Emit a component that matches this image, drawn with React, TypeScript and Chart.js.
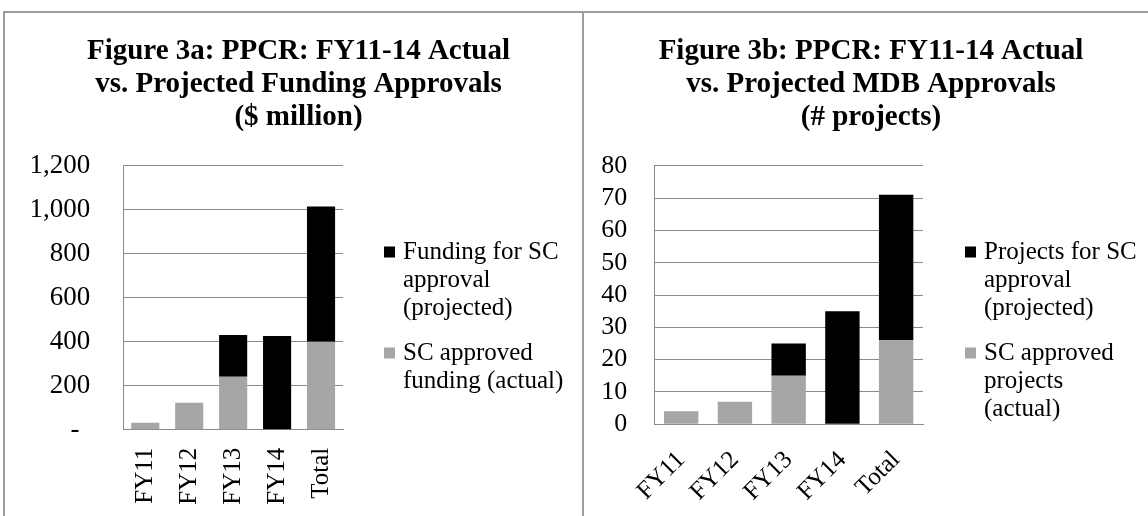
import React, { useEffect, useRef } from 'react';
import { Chart, registerables } from 'chart.js';

Chart.register(...registerables);

// ---------- data ----------
const categories = ['FY11', 'FY12', 'FY13', 'FY14', 'Total'];

const fundingActual = [32, 123, 241, 0, 400];
const fundingProjected = [0, 0, 189, 426, 615];

const projectsActual = [4, 7, 15, 0, 26];
const projectsProjected = [0, 0, 10, 35, 45];

const fundingTickLabels = ['-', '200', '400', '600', '800', '1,000', '1,200'];
const projectTickLabels = ['0', '10', '20', '30', '40', '50', '60', '70', '80'];

const titleA = ['Figure 3a: PPCR: FY11-14 Actual', 'vs. Projected Funding Approvals', '($ million)'];
const titleB = ['Figure 3b: PPCR: FY11-14 Actual', 'vs. Projected MDB Approvals', '(# projects)'];

const legendFundingProjected = ['Funding for SC', 'approval', '(projected)'];
const legendFundingActual = ['SC approved', 'funding (actual)'];
const legendProjectsProjected = ['Projects for SC', 'approval', '(projected)'];
const legendProjectsActual = ['SC approved', 'projects', '(actual)'];

// ---------- style ----------
const SERIF = "'Liberation Serif', 'Times New Roman', serif";
const GRAY = '#a6a6a6';
const BLACK = '#000000';
const GRID = '#8a8a8a';
const FRAME = '#9d9d9d';

const sideLegend = {
  id: 'sideLegend',
  afterDraw(chart: any, _args: any, opts: any) {
    const { ctx, chartArea } = chart;
    const datasets = chart.data.datasets.slice().reverse();
    const x = chartArea.right + opts.gap;
    let y = chartArea.top + opts.firstOffset;
    ctx.save();
    ctx.font = `${opts.fontSize}px ${SERIF}`;
    ctx.textBaseline = 'middle';
    ctx.textAlign = 'left';
    datasets.forEach((ds: any) => {
      const lines: string[] = ds.legendLines;
      ctx.fillStyle = ds.backgroundColor;
      ctx.fillRect(x, y - opts.box / 2, opts.box, opts.box);
      ctx.fillStyle = '#000';
      lines.forEach((ln, i) => {
        ctx.fillText(ln, x + opts.box + opts.textGap, y + i * opts.lineHeight);
      });
      y += lines.length * opts.lineHeight + opts.itemGap;
    });
    ctx.restore();
  },
};

type Params = {
  title: string[];
  actual: number[];
  projected: number[];
  actualLegend: string[];
  projectedLegend: string[];
  tickLabels: string[];
  max: number;
  step: number;
  padLeft: number;
  yWidth: number;
  yPad: number;
  yFont: number;
  xHeight: number;
  xPad: number;
  rotation: number;
  legendWidth: number;
  legendGap: number;
  dashPad: boolean;
};

function buildConfig(p: Params): any {
  return {
    type: 'bar',
    data: {
      labels: categories,
      datasets: [
        {
          label: p.actualLegend.join(' '),
          legendLines: p.actualLegend,
          data: p.actual,
          backgroundColor: GRAY,
          borderWidth: 0,
          barPercentage: 0.64,
          categoryPercentage: 1,
        },
        {
          label: p.projectedLegend.join(' '),
          legendLines: p.projectedLegend,
          data: p.projected,
          backgroundColor: BLACK,
          borderWidth: 0,
          barPercentage: 0.64,
          categoryPercentage: 1,
        },
      ],
    },
    options: {
      responsive: false,
      animation: false,
      events: [],
      layout: { padding: { left: p.padLeft, right: 0, top: 0, bottom: 0 } },
      plugins: {
        legend: { display: false },
        tooltip: { enabled: false },
        title: {
          display: true,
          text: p.title,
          color: '#000',
          font: { family: SERIF, size: 29, weight: 'bold', lineHeight: 33 / 29 },
          padding: { top: 21.5, bottom: 31.2 },
        },
        sideLegend: {
          gap: p.legendGap,
          firstOffset: 86.3,
          box: 11,
          textGap: 8,
          fontSize: 25,
          lineHeight: 28,
          itemGap: 17,
        },
      },
      scales: {
        x: {
          stacked: true,
          grid: { display: false, drawTicks: false },
          border: { display: true, color: GRID, width: 1 },
          ticks: {
            color: '#000',
            font: { family: SERIF, size: 25 },
            maxRotation: p.rotation,
            minRotation: p.rotation,
            padding: p.xPad,
            autoSkip: false,
          },
          afterFit: (s: any) => {
            s.height = p.xHeight;
          },
        },
        y: {
          stacked: true,
          min: 0,
          max: p.max,
          ticks: {
            stepSize: p.step,
            autoSkip: false,
            color: '#000',
            font: { family: SERIF, size: p.yFont },
            padding: p.yPad,
            callback: (_v: any, i: number) => {
              const lbl = p.tickLabels[i];
              return p.dashPad && i === 0 ? lbl + '\u2009\u2009' : lbl;
            },
          },
          grid: { color: GRID, lineWidth: 1, drawTicks: false },
          border: { display: true, color: GRID, width: 1 },
          afterFit: (s: any) => {
            s.width = p.yWidth;
          },
        },
        legendSpace: {
          type: 'linear',
          position: 'right',
          display: true,
          grid: { display: false, drawTicks: false },
          border: { display: false },
          ticks: { display: false },
          afterFit: (s: any) => {
            s.width = p.legendWidth;
          },
        },
      },
    },
    plugins: [sideLegend],
  };
}

function ChartCanvas({ params, width, height, style }: { params: Params; width: number; height: number; style: any }) {
  const ref = useRef<HTMLCanvasElement | null>(null);
  useEffect(() => {
    if (!ref.current) return;
    const chart = new Chart(ref.current, buildConfig(params));
    return () => chart.destroy();
  }, []);
  return <canvas ref={ref} width={width} height={height} style={{ position: 'absolute', width, height, ...style }} />;
}

const paramsA: Params = {
  title: titleA,
  actual: fundingActual,
  projected: fundingProjected,
  actualLegend: legendFundingActual,
  projectedLegend: legendFundingProjected,
  tickLabels: fundingTickLabels,
  max: 1200,
  step: 200,
  padLeft: 10,
  yWidth: 107.3,
  yPad: 33,
  yFont: 27,
  xHeight: 86.3,
  xPad: 18,
  rotation: 90,
  legendWidth: 238,
  legendGap: 41,
  dashPad: true,
};

const paramsB: Params = {
  title: titleB,
  actual: projectsActual,
  projected: projectsProjected,
  actualLegend: legendProjectsActual,
  projectedLegend: legendProjectsProjected,
  tickLabels: projectTickLabels,
  max: 80,
  step: 10,
  padLeft: 9,
  yWidth: 60.3,
  yPad: 27,
  yFont: 26,
  xHeight: 91.7,
  xPad: 21,
  rotation: 45,
  legendWidth: 225,
  legendGap: 42,
  dashPad: false,
};

export default function App() {
  return (
    <div
      style={{
        position: 'absolute',
        left: 0,
        top: 0,
        width: 1148,
        height: 516,
        overflow: 'hidden',
        background: '#fff',
      }}
    >
      <div
        style={{
          position: 'absolute',
          left: 3,
          top: 11,
          width: 1300,
          height: 700,
          borderLeft: `2px solid ${FRAME}`,
          borderTop: `2px solid ${FRAME}`,
        }}
      />
      <div style={{ position: 'absolute', left: 582, top: 11, width: 2, height: 700, background: FRAME }} />
      <ChartCanvas params={paramsA} width={575} height={502} style={{ left: 6, top: 14 }} />
      <ChartCanvas params={paramsB} width={563} height={502} style={{ left: 585, top: 14 }} />
    </div>
  );
}
